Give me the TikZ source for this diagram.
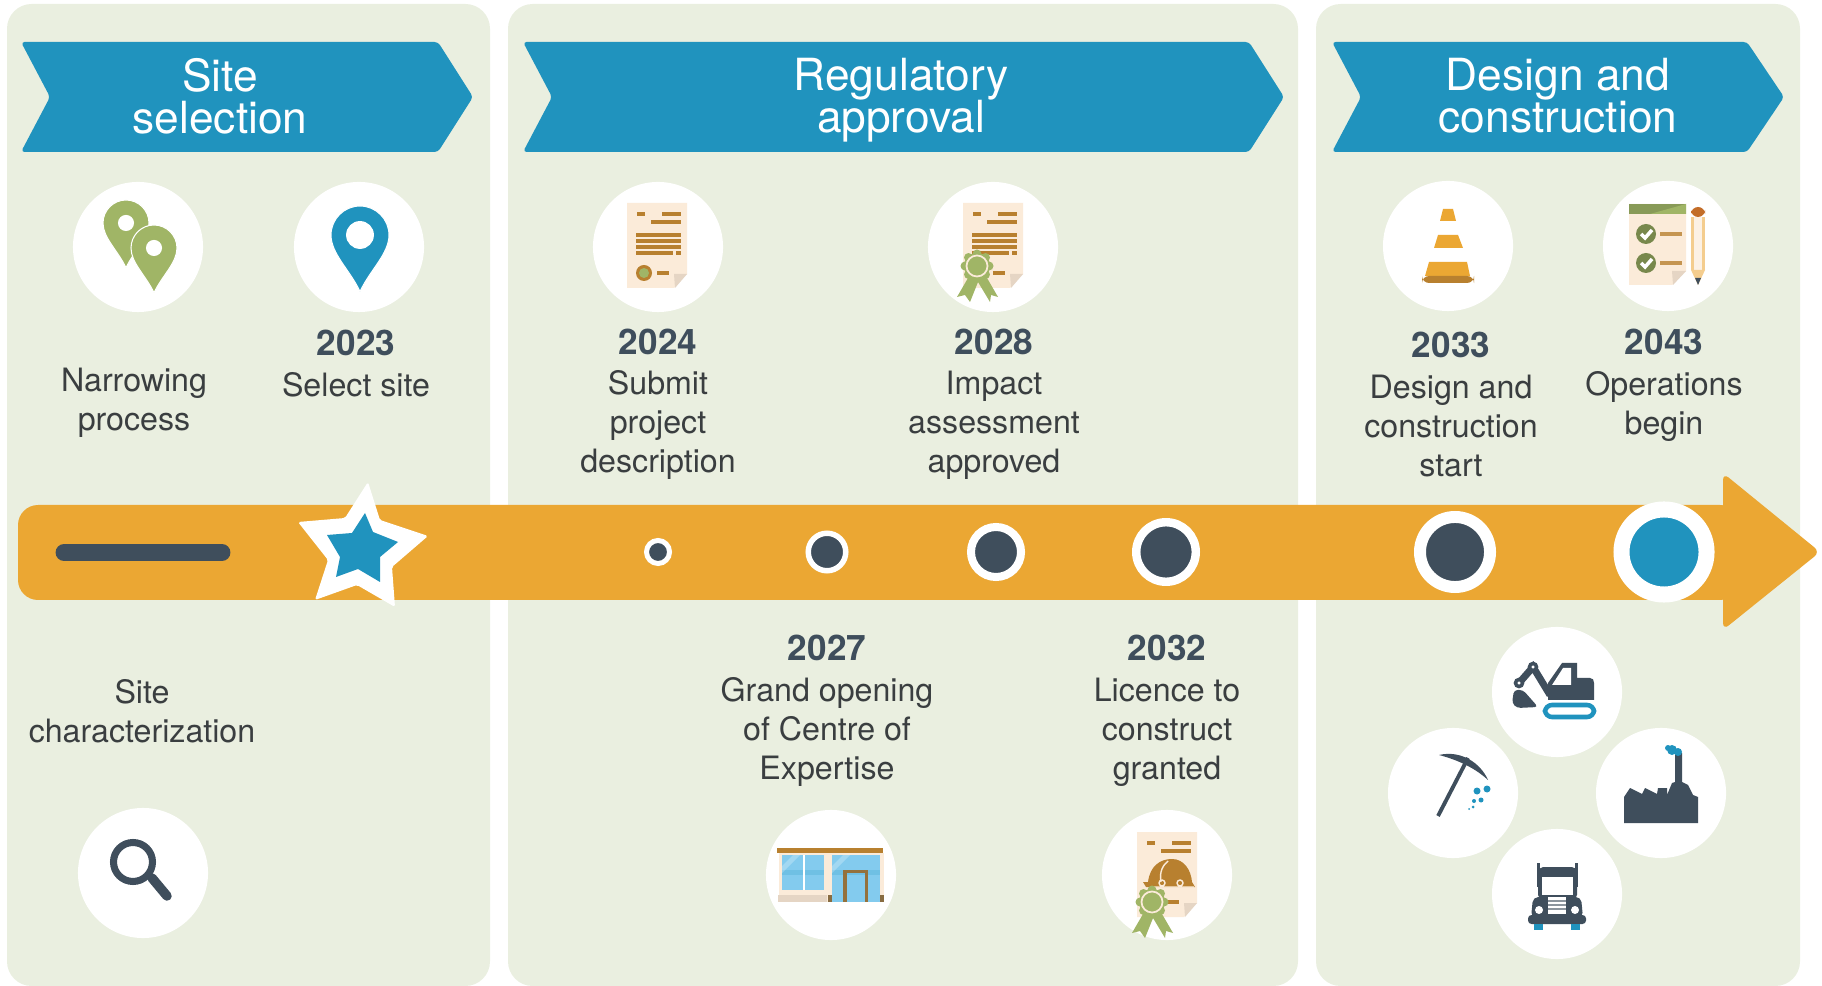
\documentclass[tikz,border=0pt]{standalone}
\usepackage{fontspec}
\setmainfont{TeX Gyre Heros}
\setlength{\lineskiplimit}{-5pt}

\definecolor{panelc}{HTML}{EAEFE0}
\definecolor{bandc}{HTML}{2093BE}
\definecolor{amber}{HTML}{EBA733}
\definecolor{slate}{HTML}{3F4E5C}
\definecolor{bodyc}{HTML}{3A3E40}
\definecolor{leaf}{HTML}{A0B566}
\definecolor{paper}{HTML}{FBEBD9}
\definecolor{foldc}{HTML}{E5D5C4}
\definecolor{umber}{HTML}{B8802F}
\definecolor{glass}{HTML}{83CBEE}

\newcommand{\yr}[1]{{\fontsize{10}{11}\selectfont\bfseries\color{slate}#1}}

\newcommand{\mappin}[5]{
  \begin{scope}[shift={(#1,#2)},scale=#3]
    \filldraw[fill=#4,draw=white,line width=.3pt] (-1,0) .. controls (-1,-.55) and (-.55,-1) .. (0,-1)
      .. controls (.55,-1) and (1,-.55) .. (1,0)
      .. controls (1,.65) and (.35,1.2) .. (0,1.95)
      .. controls (-.35,1.2) and (-1,.65) .. (-1,0) -- cycle;
    \fill[white] (0,0) circle[radius=#5];
  \end{scope}
}

\newcommand{\paperdoc}{
  \fill[paper] (627,203) -- (687,203) -- (687,274) -- (674,288) -- (627,288) -- cycle;
  \fill[foldc] (674,274) -- (687,274) -- (675,288) -- cycle;
  \draw[docline] (637,214) -- (645,214) (662,214) -- (681,214) (651,222) -- (681,222);
  \draw[docline] (657,273) -- (669,273);
}

\newcommand{\paperlines}{
  \draw[docline] (636,235) -- (681,235) (636,241) -- (681,241) (636,247) -- (681,247);
  \draw[docline] (636,253) -- (673,253) (676,253) -- (681,253);
}

\newcommand{\rosette}{
  \fill[leaf] (-9,12) -- (-20,31) -- (-12,29) -- (-7,36) -- (1,16) -- (13,36) -- (14,29) -- (21,31) -- (10,12) -- cycle;
  \foreach \a in {0,45,...,315}
    \fill[leaf] (\a:12) circle[radius=4.5];
  \fill[leaf] (0,0) circle[radius=13];
  \draw[paper,line width=.5pt] (0,0) circle[radius=10.5];
}

\tikzset{
  panel/.style={fill=panelc,rounded corners=7pt},
  band/.style={fill=bandc,rounded corners=1pt},
  docline/.style={draw=umber,line width=1pt},
  disc/.style={circle,fill=white,minimum size=1.3cm,inner sep=0pt,outer sep=0pt},
  bandtext/.style={text=white,align=center,font=\fontsize{12.6}{11.9}\selectfont},
  bodytext/.style={text=bodyc,align=center,font=\fontsize{9.15}{11.1}\selectfont,inner sep=0pt},
  tickdot/.style={circle,draw=white,fill=slate,inner sep=0pt,outer sep=0pt}
}

\begin{document}
\begin{tikzpicture}[x=0.01cm,y=-0.01cm]
  \useasboundingbox (0,0) rectangle (1822,986);

  \fill[panel] (7,4) rectangle (490,986);
  \fill[panel] (508,4) rectangle (1298,986);
  \fill[panel] (1316,4) rectangle (1800,986);

  \fill[band] (21,42) -- (438,42) -- (473,97) -- (438,152) -- (21,152) -- (50,97) -- cycle;
  \fill[band] (523,42) -- (1249,42) -- (1284,97) -- (1249,152) -- (523,152) -- (552,97) -- cycle;
  \fill[band] (1332,42) -- (1747,42) -- (1784,97) -- (1747,152) -- (1332,152) -- (1361,97) -- cycle;

  \begin{scope}[every node/.style={bandtext}]
    \node (b1) at (220,96)  {Site\\selection};
    \node (b2) at (901,100) {Regulatory\\approval};
    \node (b3) at (1558,96) {Design and\\construction};
  \end{scope}

  \begin{scope}[every node/.style={disc}]
    \node (d1)  at (138,247)  {};
    \node (d2)  at (359,247)  {};
    \node (d3)  at (658,247)  {};
    \node (d4)  at (993,247)  {};
    \node (d5)  at (1448,246) {};
    \node (d6)  at (1668,246) {};
    \node (d7)  at (143,873)  {};
    \node (d8)  at (831,875)  {};
    \node (d9)  at (1167,875) {};
    \node (d10) at (1557,692) {};
    \node (d11) at (1453,793) {};
    \node (d12) at (1661,793) {};
    \node (d13) at (1557,894) {};
  \end{scope}

  \mappin{126}{223}{23}{leaf}{.35}
  \mappin{154}{248}{23}{leaf}{.35}
  \mappin{360}{235}{29}{bandc}{.48}

  \paperdoc
  \paperlines
  \fill[umber] (644,273) circle[radius=8];
  \fill[leaf] (644,273) circle[radius=5];

  \begin{scope}[shift={(336,0)}]
    \paperdoc
    \paperlines
  \end{scope}
  \begin{scope}[shift={(977,266)}]
    \rosette
  \end{scope}

  \begin{scope}[shift={(510,629)}]
    \paperdoc
  \end{scope}
  \fill[umber] (1143,882) -- (1148,882) .. controls (1150,866) and (1160,859) .. (1172,859)
    .. controls (1184,859) and (1191,870) .. (1192,882) -- (1195,887) -- (1146,887) -- cycle;
  \draw[paper,line width=.4pt] (1161,882) .. controls (1159,872) and (1163,865) .. (1168,861);
  \draw[paper,line width=.4pt] (1162,883) circle[radius=3] (1180,883) circle[radius=3] (1150,887) -- (1194,887);
  \begin{scope}[shift={(1152,902)}]
    \rosette
  \end{scope}

  \fill[amber] (1443,209) -- (1453,209) -- (1456,221) -- (1440,221) -- cycle;
  \fill[amber] (1438,235) -- (1458,235) -- (1463,248) -- (1434,248) -- cycle;
  \fill[amber] (1429,262) -- (1467,262) -- (1470,276) -- (1425,276) -- cycle;
  \fill[umber,rounded corners=2pt] (1422,276) rectangle (1474,283);

  \fill[paper] (1629,204) -- (1686,204) -- (1686,271) -- (1672,285) -- (1629,285) -- cycle;
  \fill[foldc] (1672,271) -- (1686,271) -- (1673,285) -- cycle;
  \fill[leaf!85!black] (1629,204) rectangle (1686,214);
  \fill[leaf] (1650,214) -- (1686,204) -- (1686,214) -- cycle;
  \foreach \y in {234,263} {
    \fill[leaf!75!black] (1646,\y) circle[radius=10];
    \draw[white,line width=1pt] (1641,\y) -- ++(4,4) -- ++(7,-8);
    \draw[umber!80!paper,line width=1pt] (1660,\y) -- (1682,\y);
  }
  \fill[paper!55!amber] (1691,217) rectangle (1705,270);
  \fill[paper!70!white] (1694,217) rectangle (1702,270);
  \fill[paper!55!amber] (1691,270) -- (1705,270) -- (1698,285) -- cycle;
  \fill[slate] (1695,278) -- (1701,278) -- (1698,285) -- cycle;
  \fill[umber!85!red,rounded corners=2pt] (1691,217) -- (1691,207) -- (1705,207) -- (1705,217) -- cycle;

  \draw[slate,line width=2pt] (133,862) circle[radius=19.5];
  \draw[slate,line width=2.7pt,line cap=round] (152,878) -- (167,896);

  \fill[umber] (777,848) rectangle (883,853);
  \fill[paper] (779,853) rectangle (884,902);
  \fill[glass] (782,855) rectangle (824,890);
  \fill[glass!80!bandc] (782,870) rectangle (824,875);
  \draw[white,line width=.5pt] (804,855) -- (804,890);
  \fill[foldc] (778,895) rectangle (827,902);
  \fill[umber!60!slate] (828,895) rectangle (832,902);
  \fill[glass] (832,855) rectangle (880,902);
  \fill[glass!80!bandc] (832,870) rectangle (880,875);
  \fill[white,opacity=.25] (782,866) -- (793,855) -- (800,855) -- (782,873) -- cycle;
  \fill[white,opacity=.25] (832,866) -- (843,855) -- (850,855) -- (832,873) -- cycle;
  \fill[umber!60!slate] (880,895) rectangle (884,902);
  \fill[umber!70!slate] (843,870) rectangle (868,873);
  \fill[umber!70!slate] (843,873) rectangle (847,902);
  \fill[umber!70!slate] (865,873) rectangle (868,902);

  \fill[slate] (1548,683) -- (1562,663) -- (1577,663) -- (1577,678) -- (1590,678)
    .. controls (1593,678) and (1594,680) .. (1594,683) -- (1594,700) -- (1548,700) -- cycle;
  \fill[white] (1552,685) -- (1563,668) -- (1571,668) -- (1571,685) -- cycle;
  \draw[slate,line width=2pt] (1550,695) -- (1533,667) -- (1519,683);
  \filldraw[fill=white,draw=slate,line width=1pt] (1533,667) circle[radius=3.5] (1519,683) circle[radius=3.5];
  \fill[slate,rounded corners=1pt] (1514,690) -- (1523,690) -- (1538,707) -- (1517,708) -- (1512,703) -- cycle;
  \draw[bandc,line width=1.3pt,rounded corners=2pt] (1545,705) rectangle (1594,717);

  \draw[slate,line width=1.1pt] (1438,816) -- (1468,758);
  \fill[slate] (1439,755) .. controls (1460,750) and (1480,762) .. (1488,780)
    .. controls (1475,768) and (1458,760) .. (1439,755) -- cycle;
  \fill[bandc] (1487,789) circle[radius=3.5] (1477,791) circle[radius=3.5] (1481,800) circle[radius=2.5]
    (1474,801) circle[radius=2] (1473,807) circle[radius=1.5] (1469,809) circle[radius=1];

  \fill[slate] (1624,823) -- (1624,797) -- (1630,788) -- (1642,794) -- (1645,788) -- (1657,794) -- (1658,788)
    -- (1667,788) -- (1667,795) -- (1672,783) -- (1675,782) -- (1675,753) -- (1682,753) -- (1682,782)
    -- (1688,785) -- (1693,795) -- (1698,797) -- (1698,823) -- cycle;
  \fill[bandc] (1672,750) circle[radius=5] (1678,752) circle[radius=4] (1668,748) circle[radius=3];

  \fill[slate] (1537,863) rectangle (1540,887);
  \fill[slate] (1575,863) rectangle (1578,887);
  \fill[slate,rounded corners=1.5pt] (1538,867) rectangle (1577,900);
  \fill[white] (1542,877) rectangle (1573,895);
  \fill[slate,rounded corners=1.5pt] (1533,897) -- (1581,897) -- (1583,918) -- (1531,918) -- cycle;
  \fill[slate,rounded corners=1pt] (1528,915) rectangle (1586,924);
  \fill[white] (1539,910) circle[radius=4] (1575,910) circle[radius=4];
  \fill[white] (1548,897) rectangle (1566,914);
  \foreach \y in {901,905,909}
    \draw[slate!60,line width=.5pt] (1548,\y) -- (1566,\y);
  \fill[bandc] (1534,924) rectangle (1543,930);
  \fill[bandc] (1571,924) rectangle (1580,930);

  \fill[amber,rounded corners=5.7pt] (18,505) rectangle (1740,600);
  \fill[amber,rounded corners=2pt] (1723,473) -- (1820,552) -- (1723,630) -- cycle;
  \draw[slate,line width=4.8pt,line cap=round] (64,552.5) -- (222,552.5);

  \fill[white,rounded corners=.5pt] (368,482) -- (380,520) -- (428,536) -- (392,567) -- (395,607) -- (357,585)
    -- (315,600) -- (328,560) -- (298,522) -- (345,518) -- cycle;
  \fill[bandc] (365,513) -- (373,532) -- (398,542) -- (380,557) -- (380,582) -- (358,569)
    -- (336,577) -- (340,557) -- (327,535) -- (352,533) -- cycle;

  \begin{scope}[every node/.style={tickdot}]
    \node[minimum size=.23cm,line width=1.42pt]  (k1) at (658,552)  {};
    \node[minimum size=.375cm,line width=1.56pt] (k2) at (827,552)  {};
    \node[minimum size=.5cm,line width=2.28pt]   (k3) at (996,552)  {};
    \node[minimum size=.595cm,line width=2.4pt]  (k4) at (1166,552) {};
    \node[minimum size=.7cm,line width=3.4pt]    (k5) at (1455,552) {};
    \node[minimum size=.85cm,line width=4.55pt,fill=bandc] (k6) at (1664,552) {};
  \end{scope}

  \begin{scope}[every node/.style={bodytext}]
    \node (t1)  at (134,403)    {Narrowing\\process};
    \node (t2)  at (356,363.5)  {\yr{2023}\\[.4pt]Select site};
    \node (t3)  at (658,404.5)  {\yr{2024}\\[.4pt]Submit\\project\\description};
    \node (t4)  at (994,404.5)  {\yr{2028}\\[.4pt]Impact\\assessment\\approved};
    \node (t5)  at (1451,404.5) {\yr{2033}\\[.4pt]Design and\\construction\\start};
    \node (t6)  at (1664,385.5) {\yr{2043}\\[.4pt]Operations\\begin};
    \node (t7)  at (142,711)    {Site\\characterization};
    \node (t8)  at (827,711)    {\yr{2027}\\[.4pt]Grand opening\\of Centre of\\Expertise};
    \node (t9)  at (1167,711)   {\yr{2032}\\[.4pt]Licence to\\construct\\granted};
  \end{scope}
\end{tikzpicture}
\end{document}
